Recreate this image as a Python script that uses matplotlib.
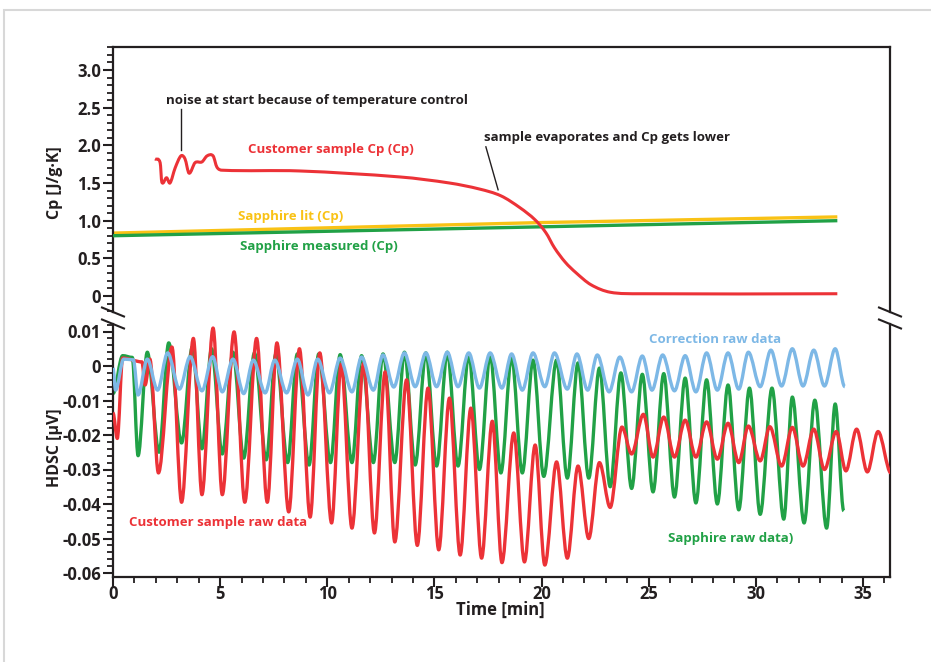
import matplotlib
matplotlib.use("Agg")
import matplotlib.pyplot as plt
from matplotlib.path import Path
from matplotlib.patches import PathPatch, Rectangle
from matplotlib.lines import Line2D
from matplotlib.ticker import FixedLocator, FixedFormatter, MultipleLocator

# ---------------- data ----------------
# top panel: Cp [J/g.K] vs time [min]
cp_sample_t = [1.96, 2.2, 2.28, 2.5, 2.66, 2.9, 3.17, 3.36, 3.55, 3.83, 4.15, 4.39, 4.67, 4.85, 5.09,
               8.7, 13.4, 15.7, 17.1, 18.1, 19.0, 19.7, 20.2, 20.6, 21.1, 21.6, 22.3, 23.2, 24.6, 33.8]
cp_sample_v = [1.82, 1.77, 1.51, 1.57, 1.50, 1.70, 1.86, 1.82, 1.63, 1.77, 1.78, 1.86, 1.86, 1.71, 1.67,
               1.66, 1.58, 1.50, 1.42, 1.33, 1.17, 1.01, 0.84, 0.64, 0.45, 0.31, 0.15, 0.05, 0.03, 0.03]
cp_lit_t = [0.0, 10.0, 20.0, 33.8]
cp_lit_v = [0.835, 0.905, 0.975, 1.05]
cp_meas_t = [0.0, 33.8]
cp_meas_v = [0.80, 1.00]

# bottom panel: HDSC raw signal extrema (time [min], value [uV])
corr_t = [0.0, 0.12, 0.5, 0.95, 1.17, 1.6, 2.08, 2.55, 3.1, 3.6, 4.15, 4.65, 5.1, 5.6, 6.1, 6.55, 7.1, 7.55,
          8.1, 8.6, 9.1, 9.55, 10.1, 10.6, 11.15, 11.6, 12.15, 12.6, 13.1, 13.6, 14.1, 14.6, 15.1, 15.6,
          16.1, 16.6, 17.1, 17.6, 18.15, 18.6, 19.1, 19.6, 20.15, 20.6, 21.2, 21.65, 22.15, 22.6, 23.15,
          23.65, 24.2, 24.7, 25.15, 25.65, 26.2, 26.7, 27.2, 27.7, 28.2, 28.7, 29.2, 29.65, 30.2, 30.7,
          31.2, 31.7, 32.2, 32.7, 33.2, 33.7, 34.15]
corr_v = [-0.0006, -0.007, 0.002, 0.0018, -0.0084, 0.002, -0.007, 0.0038, -0.0067, 0.0027, -0.0072, 0.0027,
          -0.0075, 0.002, -0.008, 0.0017, -0.0078, 0.0017, -0.0078, 0.002, -0.0084, 0.002, -0.0078, 0.0023,
          -0.0075, 0.0026, -0.007, 0.0032, -0.0061, 0.0038, -0.006, 0.0038, -0.006, 0.004, -0.006, 0.0038,
          -0.0064, 0.0038, -0.0064, 0.0035, -0.007, 0.0038, -0.006, 0.0038, -0.0067, 0.0035, -0.007, 0.0032,
          -0.0075, 0.0026, -0.0075, 0.0029, -0.007, 0.0032, -0.0072, 0.003, -0.0075, 0.0038, -0.007, 0.0038,
          -0.0067, 0.004, -0.006, 0.0046, -0.0058, 0.005, -0.0058, 0.0046, -0.0058, 0.005, -0.006]

sapph_t = [0.0, 0.45, 0.9, 1.17, 1.6, 2.15, 2.6, 3.2, 3.7, 4.15, 4.6, 5.1, 5.6, 6.1, 6.6, 7.15, 7.6, 8.15,
           8.6, 9.15, 9.6, 10.15, 10.6, 11.15, 11.6, 12.15, 12.6, 13.15, 13.6, 14.1, 14.6, 15.1, 15.6, 16.1,
           16.6, 17.1, 17.6, 18.1, 18.6, 19.1, 19.6, 20.1, 20.7, 21.2, 21.7, 22.2, 22.7, 23.2, 23.7, 24.2,
           24.7, 25.2, 25.7, 26.2, 26.7, 27.2, 27.7, 28.2, 28.7, 29.2, 29.7, 30.2, 30.75, 31.3, 31.7, 32.25,
           32.75, 33.3, 33.7, 34.1]
sapph_v = [-0.008, 0.003, 0.0025, -0.026, 0.004, -0.025, 0.0067, -0.0223, 0.0055, -0.024, 0.005, -0.0255,
           0.004, -0.0267, 0.0038, -0.0272, 0.0035, -0.028, 0.0035, -0.0287, 0.0035, -0.028, 0.0033, -0.028,
           0.003, -0.028, 0.0035, -0.028, 0.004, -0.0287, 0.0038, -0.029, 0.004, -0.029, 0.0032, -0.030,
           0.0032, -0.031, 0.0026, -0.031, 0.0017, -0.032, 0.0017, -0.0325, 0.0009, -0.0325, -0.0006, -0.035,
           -0.002, -0.0355, -0.0024, -0.0365, -0.0022, -0.038, -0.0035, -0.0397, -0.004, -0.040, -0.0055,
           -0.0417, -0.0064, -0.043, -0.0064, -0.0444, -0.009, -0.0455, -0.0099, -0.047, -0.011, -0.042]

cust_t = [0.0, 0.2, 0.45, 1.35, 1.5, 1.72, 2.12, 2.75, 3.2, 3.75, 4.15, 4.67, 5.1, 5.65, 6.15, 6.7, 7.2, 7.65,
          8.2, 8.7, 9.2, 9.65, 10.2, 10.65, 11.15, 11.7, 12.2, 12.7, 13.15, 13.7, 14.2, 14.7, 15.2, 15.7,
          16.2, 16.7, 17.2, 17.7, 18.15, 18.7, 19.2, 19.7, 20.15, 20.7, 21.2, 21.7, 22.2, 22.7, 23.2, 23.75,
          24.2, 24.75, 25.2, 25.7, 26.2, 26.7, 27.2, 27.7, 28.2, 28.7, 29.2, 29.65, 30.2, 30.65, 31.2, 31.7,
          32.2, 32.7, 33.2, 33.75, 34.2, 34.7, 35.2, 35.7, 36.3]
cust_v = [-0.0136, -0.021, 0.0023, 0.0012, -0.0055, 0.002, -0.031, 0.0055, -0.0395, 0.008, -0.0373, 0.011,
          -0.0373, 0.0099, -0.0395, 0.008, -0.0395, 0.0067, -0.0423, 0.005, -0.0438, 0.0038, -0.0455, 0.0005,
          -0.047, 0.0008, -0.0484, -0.0017, -0.051, -0.004, -0.052, -0.0064, -0.0533, -0.0093, -0.0548,
          -0.0122, -0.0557, -0.016, -0.057, -0.0194, -0.0568, -0.0229, -0.0577, -0.0278, -0.0557, -0.029,
          -0.050, -0.028, -0.041, -0.0177, -0.0255, -0.014, -0.0264, -0.0148, -0.0264, -0.0157, -0.0264,
          -0.0162, -0.027, -0.0166, -0.028, -0.0174, -0.0275, -0.0176, -0.029, -0.0178, -0.029, -0.0183,
          -0.030, -0.019, -0.0304, -0.0183, -0.0307, -0.019, -0.031]

# tick labels
x_ticks = [0, 5, 10, 15, 20, 25, 30, 35]
x_labels = ["0", "5", "10", "15", "20", "25", "30", "35"]
cp_ticks = [0, 0.5, 1.0, 1.5, 2.0, 2.5, 3.0]
cp_labels = ["0", "0.5", "1.0", "1.5", "2.0", "2.5", "3.0"]
hd_ticks = [-0.06, -0.05, -0.04, -0.03, -0.02, -0.01, 0, 0.01]
hd_labels = ["-0.06", "-0.05", "-0.04", "-0.03", "-0.02", "-0.01", "0", "0.01"]

# ---------------- style ----------------
RED = "#ec3237"
GREEN = "#21a146"
BLUE = "#7db8e6"
YELLOW = "#f9c215"
INK = "#231f20"
TICKFONT = ["Open Sans", "DejaVu Sans"]
ANNFONT = ["Open Sans", "DejaVu Sans"]

W, H = 931, 662


def fx(px):
    return px / W


def fy(py):
    return 1 - py / H


def hermite_path(ts, vs, smooth_slopes):
    n = len(ts)
    slopes = []
    for i in range(n):
        if not smooth_slopes:
            slopes.append(0.0)
        else:
            a = max(i - 1, 0)
            b = min(i + 1, n - 1)
            slopes.append((vs[b] - vs[a]) / (ts[b] - ts[a]))
    verts = [(ts[0], vs[0])]
    codes = [Path.MOVETO]
    for i in range(n - 1):
        dt = ts[i + 1] - ts[i]
        verts += [(ts[i] + dt / 3, vs[i] + slopes[i] * dt / 3),
                  (ts[i + 1] - dt / 3, vs[i + 1] - slopes[i + 1] * dt / 3),
                  (ts[i + 1], vs[i + 1])]
        codes += [Path.CURVE4] * 3
    return Path(verts, codes)


fig = plt.figure(figsize=(W / 100, H / 100), dpi=100)

# card border
fig.add_artist(Rectangle((fx(4), fy(H + 20)), fx(W + 20), fy(10) - fy(H + 20),
                         transform=fig.transFigure, fill=False, ec="#d8d8d8", lw=1.5))

L, R = 113, 890
top_t, top_b = 47, 312
bot_t, bot_b = 324, 577
ax1 = fig.add_axes([fx(L), fy(top_b), fx(R - L), fy(top_t) - fy(top_b)])
ax2 = fig.add_axes([fx(L), fy(bot_b), fx(R - L), fy(bot_t) - fy(bot_b)])

xmax = (R - L) / 21.43
for ax in (ax1, ax2):
    ax.set_xlim(0, xmax)
    ax.set_facecolor("none")
    for s in ax.spines.values():
        s.set_color(INK)
        s.set_linewidth(1.6)
ax1.set_ylim((296 - top_b) / 75.33, (296 - top_t) / 75.33)
ax2.set_ylim((366 - bot_b) / 3450.0, (366 - bot_t) / 3450.0)

ax1.spines["bottom"].set_visible(False)
ax2.spines["top"].set_visible(False)

# ticks
ax1.tick_params(axis="x", which="both", bottom=False, labelbottom=False)
ax1.yaxis.set_major_locator(FixedLocator(cp_ticks))
ax1.yaxis.set_major_formatter(FixedFormatter(cp_labels))
ax1.yaxis.set_minor_locator(MultipleLocator(0.1))
ax2.yaxis.set_major_locator(FixedLocator(hd_ticks))
ax2.yaxis.set_major_formatter(FixedFormatter(hd_labels))
ax2.yaxis.set_minor_locator(MultipleLocator(0.002))
ax2.xaxis.set_major_locator(FixedLocator(x_ticks))
ax2.xaxis.set_major_formatter(FixedFormatter(x_labels))
ax2.xaxis.set_minor_locator(MultipleLocator(1))
for ax in (ax1, ax2):
    ax.tick_params(which="major", direction="out", length=7, width=1.5, color=INK, pad=1.5,
                   labelsize=12, labelcolor=INK)
    ax.tick_params(which="minor", direction="out", length=4, width=1.3, color=INK)
    ax.tick_params(axis="y", which="both", right=False)
    for lab in ax.get_xticklabels() + ax.get_yticklabels():
        lab.set_family(TICKFONT)
        lab.set_fontweight("bold")
ax2.tick_params(axis="x", which="major", pad=-1.5)

# top curves
ax1.plot(cp_lit_t, cp_lit_v, color=YELLOW, lw=2.4, solid_capstyle="butt", zorder=2)
ax1.plot(cp_meas_t, cp_meas_v, color=GREEN, lw=2.4, solid_capstyle="butt", zorder=3)
ax1.add_patch(PathPatch(hermite_path(cp_sample_t, cp_sample_v, True), fill=False, ec=RED, lw=2.2,
                        capstyle="butt", joinstyle="round", zorder=4))

# bottom curves
ax2.add_patch(PathPatch(hermite_path(sapph_t, sapph_v, False), fill=False, ec=GREEN, lw=2.4,
                        joinstyle="round", zorder=2))
ax2.add_patch(PathPatch(hermite_path(cust_t, cust_v, False), fill=False, ec=RED, lw=2.4,
                        joinstyle="round", zorder=3))
ax2.add_patch(PathPatch(hermite_path(corr_t, corr_v, False), fill=False, ec=BLUE, lw=2.4,
                        joinstyle="round", zorder=4))

# annotations
afs = 9.5
ax1.text(2.47, 2.60, "noise at start because of temperature control", color=INK, fontsize=afs,
         fontweight="bold", family=ANNFONT, ha="left", va="center")
ax1.plot([3.17, 3.17], [2.48, 1.94], color=INK, lw=1.0)
ax1.text(6.3, 1.95, "Customer sample Cp (Cp)", color=RED, fontsize=afs, fontweight="bold",
         family=ANNFONT, ha="left", va="center")
ax1.text(17.3, 2.10, "sample evaporates and Cp gets lower", color=INK, fontsize=afs, fontweight="bold",
         family=ANNFONT, ha="left", va="center")
ax1.plot([17.4, 17.97], [1.98, 1.41], color=INK, lw=1.0)
ax1.text(5.83, 1.06, "Sapphire lit (Cp)", color=YELLOW, fontsize=afs, fontweight="bold",
         family=ANNFONT, ha="left", va="center")
ax1.text(5.93, 0.66, "Sapphire measured (Cp)", color=GREEN, fontsize=afs, fontweight="bold",
         family=ANNFONT, ha="left", va="center")
ax2.text(25.0, 0.0078, "Correction raw data", color=BLUE, fontsize=afs, fontweight="bold",
         family=ANNFONT, ha="left", va="center")
ax2.text(0.75, -0.0455, "Customer sample raw data", color=RED, fontsize=afs, fontweight="bold",
         family=ANNFONT, ha="left", va="center")
ax2.text(25.9, -0.050, "Sapphire raw data)", color=GREEN, fontsize=afs, fontweight="bold",
         family=ANNFONT, ha="left", va="center")

# axis labels
fig.text(fx(55), fy(183), "Cp [J/g\u00b7K]", rotation=90, ha="center", va="center", fontsize=11.5,
         fontweight="bold", family=TICKFONT, color=INK)
fig.text(fx(55), fy(448), "HDSC [\u00b5V]", rotation=90, ha="center", va="center", fontsize=11.5,
         fontweight="bold", family=TICKFONT, color=INK)
fig.text(fx(500), fy(610), "Time [min]", ha="center", va="center", fontsize=12,
         fontweight="bold", family=TICKFONT, color=INK)

# break marks
for xc in (L, R):
    for yc in (top_b, bot_t):
        fig.add_artist(Line2D([fx(xc - 11), fx(xc + 11)], [fy(yc - 4.5), fy(yc + 4.5)],
                              transform=fig.transFigure, color=INK, lw=1.5))

fig.savefig("out.png", dpi=100)
